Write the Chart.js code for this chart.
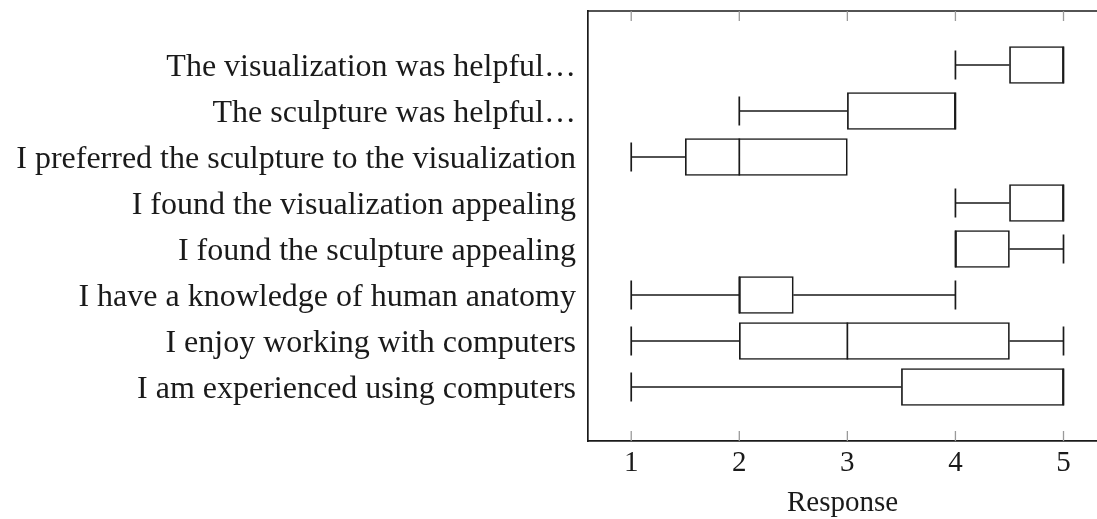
<!DOCTYPE html>
<html>
<head>
<meta charset="utf-8">
<script src="https://cdn.jsdelivr.net/npm/chart.js@4"></script>
<style>
  html, body { margin: 0; padding: 0; background: #fff; }
  #wrap { width: 1097px; height: 519px; }
</style>
</head>
<body>
<div id="wrap"><canvas id="chart" width="1097" height="519"></canvas></div>
<script>
// Survey statements, top to bottom
const statements = [
    'The visualization was helpful\u2026',
    'The sculpture was helpful\u2026',
    'I preferred the sculpture to the visualization',
    'I found the visualization appealing',
    'I found the sculpture appealing',
    'I have a knowledge of human anatomy',
    'I enjoy working with computers',
    'I am experienced using computers'
];
const rows = [1, 2, 3, 4, 5, 6, 7, 8];

// Five-number summaries of the responses
const lowWhisker  = [4, 2, 1, 4, 4, 1, 1, 1];
const lowerQuart  = [4.5, 3, 1.5, 4.5, 4, 2, 2, 3.5];
const medians     = [5, 4, 2, 5, 4, 2, 3, 5];
const upperQuart  = [5, 4, 3, 5, 4.5, 2.5, 4.5, 5];
const highWhisker = [5, 4, 3, 5, 5, 4, 5, 5];

const responseTicks = [1, 2, 3, 4, 5];

const INK = '#1a1a1a';
const LINE_W = 1.7;
const SERIF = '"Liberation Serif", "DejaVu Serif", serif';

// whiskers, medians, the top frame line and the inward tick marks
const boxExtras = {
    id: 'boxExtras',
    afterDatasetsDraw(chart) {
        const { ctx, chartArea, scales: { x, y } } = chart;
        const cap = 14.5;
        ctx.save();
        ctx.strokeStyle = INK;
        ctx.lineWidth = LINE_W;
        rows.forEach((r, i) => {
            const cy = y.getPixelForValue(r);
            const half = 18.5;
            const xMin = x.getPixelForValue(lowWhisker[i]);
            const xQ1 = x.getPixelForValue(lowerQuart[i]);
            const xQ3 = x.getPixelForValue(upperQuart[i]);
            const xMax = x.getPixelForValue(highWhisker[i]);
            const xMed = x.getPixelForValue(medians[i]);
            ctx.beginPath();
            if (xQ1 > xMin) {
                ctx.moveTo(xMin, cy); ctx.lineTo(xQ1, cy);
                ctx.moveTo(xMin, cy - cap); ctx.lineTo(xMin, cy + cap);
            }
            if (xMax > xQ3) {
                ctx.moveTo(xQ3, cy); ctx.lineTo(xMax, cy);
                ctx.moveTo(xMax, cy - cap); ctx.lineTo(xMax, cy + cap);
            }
            ctx.moveTo(xMed, cy - half); ctx.lineTo(xMed, cy + half);
            ctx.stroke();
        });

        // top edge of the frame
        ctx.beginPath();
        ctx.moveTo(chartArea.left, chartArea.top);
        ctx.lineTo(chart.width, chartArea.top);
        ctx.stroke();

        // tick marks pointing into the plot, top and bottom
        ctx.strokeStyle = '#9a9a9a';
        ctx.lineWidth = 1.3;
        ctx.beginPath();
        responseTicks.forEach(v => {
            const px = x.getPixelForValue(v);
            ctx.moveTo(px, chartArea.top); ctx.lineTo(px, chartArea.top + 10);
            ctx.moveTo(px, chartArea.bottom); ctx.lineTo(px, chartArea.bottom - 10);
        });
        ctx.stroke();
        ctx.restore();
    }
};

new Chart(document.getElementById('chart'), {
    type: 'bar',
    data: {
        datasets: [{
            data: rows.map((r, i) => ({ x: [lowerQuart[i], upperQuart[i]], y: r })),
            backgroundColor: '#ffffff',
            borderColor: INK,
            borderWidth: LINE_W,
            borderSkipped: false,
            barThickness: 37
        }]
    },
    options: {
        indexAxis: 'y',
        responsive: false,
        animation: false,
        devicePixelRatio: 1,
        layout: { padding: { top: 11, right: 0, left: 0, bottom: 0 } },
        plugins: {
            legend: { display: false },
            tooltip: { enabled: false }
        },
        scales: {
            x: {
                type: 'linear',
                position: 'bottom',
                min: 0.6,
                max: 5.31,
                afterBuildTicks: s => { s.ticks = responseTicks.map(v => ({ value: v })); },
                afterFit: s => { s.height = 78; s.paddingLeft = 0; s.paddingRight = 0; },
                grid: { display: false, drawTicks: false },
                border: { display: true, color: INK, width: LINE_W },
                ticks: {
                    color: INK,
                    padding: 5,
                    font: { family: SERIF, size: 29 },
                    callback: v => String(v)
                },
                title: {
                    display: true,
                    text: 'Response',
                    color: INK,
                    padding: { top: 3, bottom: -2 },
                    font: { family: SERIF, size: 29 }
                }
            },
            y: {
                type: 'linear',
                reverse: true,
                offset: false,
                min: -0.174,
                max: 9.174,
                afterBuildTicks: s => { s.ticks = rows.map(v => ({ value: v })); },
                afterFit: s => { s.width = 588; s.paddingTop = 0; s.paddingBottom = 0; },
                grid: { display: false, drawTicks: false, offset: false },
                border: { display: true, color: INK, width: LINE_W },
                ticks: {
                    color: INK,
                    padding: 12,
                    labelOffset: 3,
                    font: { family: SERIF, size: 32 },
                    callback: v => statements[v - 1]
                }
            }
        }
    },
    plugins: [boxExtras]
});
</script>
</body>
</html>
